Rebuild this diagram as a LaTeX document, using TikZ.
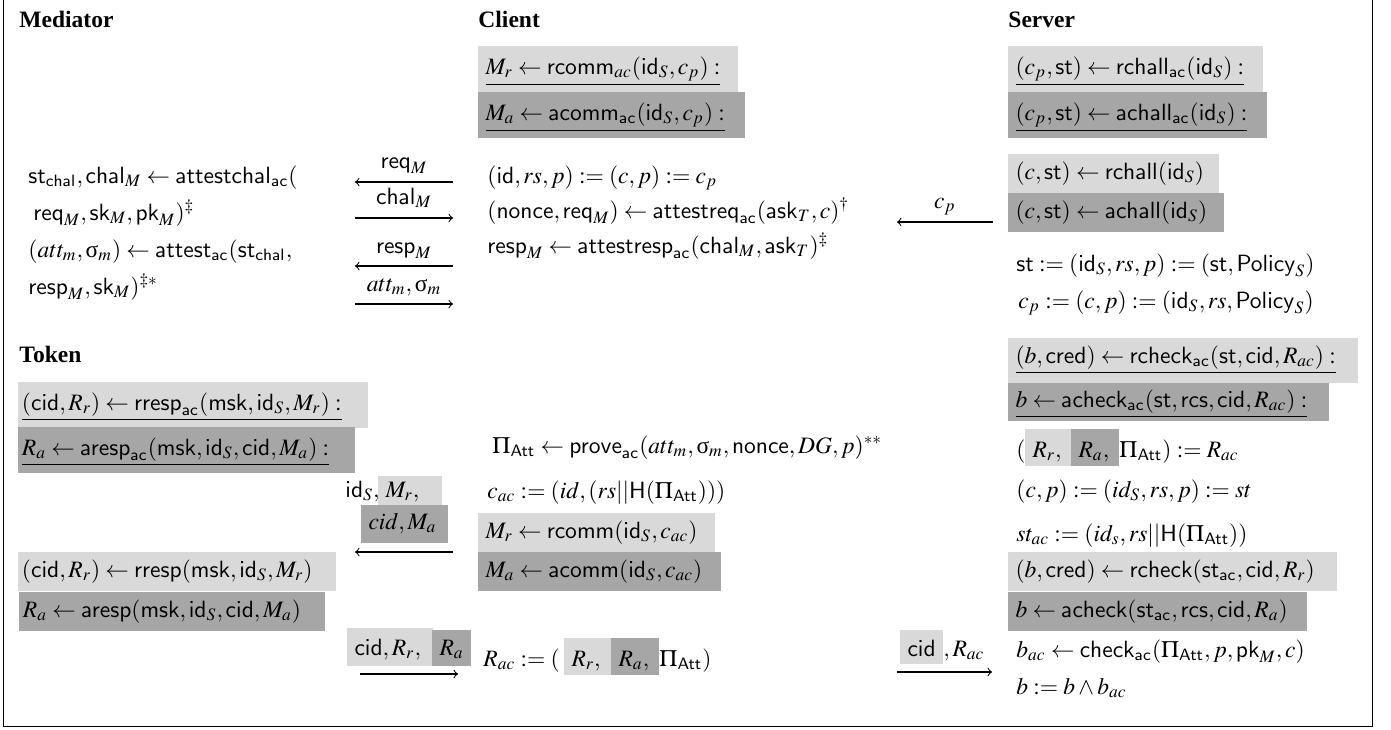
\documentclass[tikz,border=0pt]{standalone}
\usepackage{mathptmx}
\usepackage{fontspec}
\setmainfont{Liberation Serif}
\definecolor{lgray}{RGB}{217,217,217}
\definecolor{dgray}{RGB}{166,166,166}
\newcommand{\sff}[1]{\mathsf{#1}}
\newcommand{\mth}[1]{\mbox{$#1$}}
\newcommand{\sig}{\mbox{\normalfont σ}}
\begin{document}
\begin{tikzpicture}[x=0.4255pt, y=-0.4255pt,
  txt/.style={anchor=base west, inner sep=0pt},
  ttl/.style={anchor=base west, inner sep=0pt, font=\bfseries},
  bx/.style={anchor=base west, inner ysep=0pt, inner xsep=3pt, align=left},
  lbox/.style={bx, fill=lgray},
  dbox/.style={bx, fill=dgray},
  hdr/.style={text height=11.9pt, text depth=7.7pt},
  reg/.style={text height=10.6pt, text depth=6pt},
  inl/.style={text height=11.9pt, text depth=3.8pt},
  tw/.style={text width=#1},
  msg/.style={->, line width=0.45pt},
  lbl/.style={anchor=base, inner sep=0pt},
]
\useasboundingbox (0,0) rectangle (1391,729);
\draw[line width=0.6pt] (3.5,-3) rectangle (1372.5,726.5);

% titles
\node[ttl] (hmed) at (19,27) {Mediator};
\node[ttl] (hcli) at (478,27) {Client};
\node[ttl] (hsrv) at (1008,27) {Server};
\node[ttl] (htok) at (19,362) {Token};

% client header boxes
\node[lbox,hdr,tw=104.6pt] (c1) at (478,74) {\mth{\underline{M_r \leftarrow \sff{rcomm}_{ac}(\sff{id}_S, c_p) :}}};
\node[dbox,hdr,tw=107.6pt] (c2) at (478,120) {\mth{\underline{M_a \leftarrow \sff{acomm}_{\sff{ac}}(\sff{id}_S, c_p) :}}};

% server header boxes
\node[lbox,hdr,tw=102.5pt] (s1) at (1008,74) {\mth{\underline{(c_p, \sff{st}) \leftarrow \sff{rchall}_{\sff{ac}}(\sff{id}_S) :}}};
\node[dbox,hdr,tw=103.8pt] (s2) at (1008,120) {\mth{\underline{(c_p, \sff{st}) \leftarrow \sff{achall}_{\sff{ac}}(\sff{id}_S) :}}};

% mediator lines
\node[txt] (m1) at (28,183) {\mth{\sff{st}_{\sff{chal}}, \sff{chal}_M \leftarrow \sff{attestchal}_{\sff{ac}}(}};
\node[txt] (m2) at (33,220) {\mth{\sff{req}_M, \sff{sk}_M, \sff{pk}_M)^{\ddagger}}};
\node[txt] (m3) at (28,257) {\mth{(att_m, \sig_m) \leftarrow \sff{attest}_{\sff{ac}}(\sff{st}_{\sff{chal}},}};
\node[txt] (m4) at (28,294) {\mth{\sff{resp}_M, \sff{sk}_M)^{\ddagger *}}};

% client lines
\node[txt] (k1) at (487,183) {\mth{(\sff{id}, rs, p) := (c, p) := c_p}};
\node[txt] (k2) at (487,218) {\mth{(\sff{nonce}, \sff{req}_M) \leftarrow \sff{attestreq}_{\sff{ac}}(\sff{ask}_T, c)^{\dagger}}};
\node[txt] (k3) at (487,253) {\mth{\sff{resp}_M \leftarrow \sff{attestresp}_{\sff{ac}}(\sff{chal}_M, \sff{ask}_T)^{\ddagger}}};

% server lines
\node[lbox,reg,tw=83.4pt] (s3) at (1008,179) {\mth{(c, \sff{st}) \leftarrow \sff{rchall}(\sff{id}_S)}};
\node[dbox,reg,tw=85.5pt] (s4) at (1008,218) {\mth{(c, \sff{st}) \leftarrow \sff{achall}(\sff{id}_S)}};
\node[txt] (s5) at (1016,271) {\mth{\sff{st} := (\sff{id}_S, rs, p) := (\sff{st}, \sff{Policy}_S)}};
\node[txt] (s6) at (1018,308) {\mth{c_p := (c, p) := (\sff{id}_S, rs, \sff{Policy}_S)}};

% top arrows
\coordinate (a1r) at (453,182); \coordinate (a1l) at (355,182);
\draw[msg] (a1r) -- (a1l);
\node[lbl] (l1) at (404,168) {\mth{\sff{req}_M}};
\coordinate (a2l) at (355,218); \coordinate (a2r) at (453,218);
\draw[msg] (a2l) -- (a2r);
\node[lbl] (l2) at (404,204) {\mth{\sff{chal}_M}};
\coordinate (a3r) at (453,266); \coordinate (a3l) at (355,266);
\draw[msg] (a3r) -- (a3l);
\node[lbl] (l3) at (404,253) {\mth{\sff{resp}_M}};
\coordinate (a4l) at (355,304); \coordinate (a4r) at (453,304);
\draw[msg] (a4l) -- (a4r);
\node[lbl] (l4) at (404,291) {\mth{att_m, \sig_m}};
\coordinate (a5r) at (993,222); \coordinate (a5l) at (897,222);
\draw[msg] (a5r) -- (a5l);
\node[lbl] (l5) at (945,208) {\mth{c_p}};

% token header boxes
\node[lbox,hdr,inner xsep=1.5pt,tw=145.9pt] (t1) at (18,410) {\mth{\underline{(\sff{cid}, R_r) \leftarrow \sff{rresp}_{\sff{ac}}(\sff{msk}, \sff{id}_S, M_r) :}}};
\node[dbox,hdr,inner xsep=1.5pt,tw=140.4pt] (t2) at (18,455) {\mth{\underline{R_a \leftarrow \sff{aresp}_{\sff{ac}}(\sff{msk}, \sff{id}_S, \sff{cid}, M_a) :}}};

% server middle header boxes
\node[lbox,text height=10.6pt,text depth=8.5pt,tw=142.9pt] (s7) at (1008,363) {\mth{\underline{(b, \sff{cred}) \leftarrow \sff{rcheck}_{\sff{ac}}(\sff{st}, \sff{cid}, R_{ac}) :}}};
\node[dbox,text height=10.2pt,text depth=6pt,tw=130.2pt] (s8) at (1008,407) {\mth{\underline{b \leftarrow \sff{acheck}_{\sff{ac}}(\sff{st}, \sff{rcs}, \sff{cid}, R_{ac}) :}}};

% server inline line
\node[txt] (s9a) at (1016,457) {\mth{(}};
\node[lbox,inl,tw=13.6pt] (s9b) at (1025,457) {\mth{R_r,}};
\node[dbox,inl,tw=14.4pt] (s9c) at (1071,457) {\mth{R_a,}};
\node[txt] (s9d) at (1119,457) {\mth{\Pi_{\sff{Att}}) := R_{ac}}};
\node[txt] (s10) at (1016,497) {\mth{(c, p) := (id_S, rs, p) := st}};
\node[txt] (s11) at (1016,541) {\mth{st_{ac} := (id_s, rs||\sff{H}(\Pi_{\sff{Att}}))}};
\node[lbox,reg,tw=133.6pt] (s12) at (1008,577) {\mth{(b, \sff{cred}) \leftarrow \sff{rcheck}(\sff{st}_{\sff{ac}}, \sff{cid}, R_r)}};
\node[dbox,reg,tw=121.2pt] (s13) at (1008,617) {\mth{b \leftarrow \sff{acheck}(\sff{st}_{\sff{ac}}, \sff{rcs}, \sff{cid}, R_a)}};
\node[txt] (s14) at (1016,657) {\mth{b_{ac} \leftarrow \sff{check}_{\sff{ac}}(\Pi_{\sff{Att}}, p, \sff{pk}_M, c)}};
\node[txt] (s15) at (1016,694) {\mth{b := b \wedge b_{ac}}};

% client lower
\node[txt] (k4) at (492,453) {\mth{\Pi_{\sff{Att}} \leftarrow \sff{prove}_{\sff{ac}}(att_m, \sig_m, \sff{nonce}, DG, p)^{**}}};
\node[txt] (k5) at (487,498) {\mth{c_{ac} := (id, (rs||\sff{H}(\Pi_{\sff{Att}})))}};
\node[lbox,reg,tw=94.8pt] (k6) at (478,538) {\mth{M_r \leftarrow \sff{rcomm}(\sff{id}_S, c_{ac})}};
\node[dbox,reg,tw=97pt] (k7) at (478,577) {\mth{M_a \leftarrow \sff{acomm}(\sff{id}_S, c_{ac})}};
\node[txt] (k8a) at (483,666) {\mth{R_{ac} := (}};
\node[lbox,inl,tw=14pt] (k8b) at (564,666) {\mth{R_r,}};
\node[dbox,inl,tw=14.4pt] (k8c) at (611,666) {\mth{R_a,}};
\node[txt] (k8d) at (659,666) {\mth{\Pi_{\sff{Att}})}};

% token lower
\node[lbox,reg,inner xsep=1.5pt,tw=132.3pt] (t3) at (18,577) {\mth{(\sff{cid}, R_r) \leftarrow \sff{rresp}(\sff{msk}, \sff{id}_S, M_r)}};
\node[dbox,reg,inner xsep=1.5pt,tw=126.8pt] (t4) at (19,617) {\mth{R_a \leftarrow \sff{aresp}(\sff{msk}, \sff{id}_S, \sff{cid}, M_a)}};

% lower-left arrow (client -> mediator)
\node[txt] (l6a) at (345,497) {\mth{\sff{id}_S,}};
\node[lbox,text height=8.9pt,text depth=3.4pt,tw=21.2pt] (l6b) at (378,497) {\mth{M_r,}};
\node[dbox,text height=10.2pt,text depth=6pt,tw=31pt] (l6c) at (361,529) {\mth{cid, M_a}};
\coordinate (a6r) at (453,552); \coordinate (a6l) at (355,552);
\draw[msg] (a6r) -- (a6l);

% token -> client arrow
\node[lbox,text height=11.5pt,text depth=4.7pt,tw=30.2pt] (l7a) at (347,655) {\mth{\sff{cid}, R_r,}};
\node[dbox,text height=10.6pt,text depth=4.7pt,tw=10.2pt] (l7b) at (432,655) {\mth{R_a}};
\coordinate (a7l) at (360,674); \coordinate (a7r) at (458,674);
\draw[msg] (a7l) -- (a7r);

% client -> server arrow
\node[lbox,text height=11.1pt,text depth=3.4pt,tw=12.3pt] (l8a) at (900,656) {\mth{\sff{cid}}};
\node[txt] (l8b) at (943,656) {\mth{, R_{ac}}};
\coordinate (a8l) at (897,672); \coordinate (a8r) at (992,672);
\draw[msg] (a8l) -- (a8r);
\end{tikzpicture}
\end{document}
